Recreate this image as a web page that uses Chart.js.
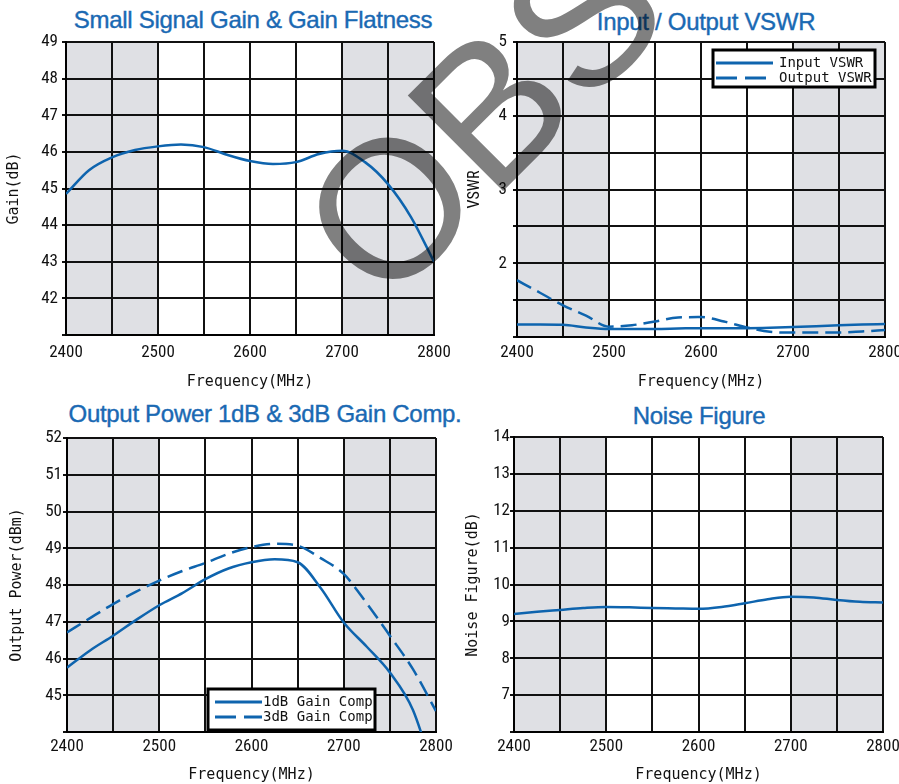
<!DOCTYPE html>
<html>
<head>
<meta charset="utf-8">
<script src="https://cdn.jsdelivr.net/npm/chart.js@4.4.1/dist/chart.umd.min.js"></script>
<style>
  html, body { margin: 0; padding: 0; background: #fff; overflow: hidden; }
  #page { position: relative; width: 899px; height: 784px; }
  .panel { position: absolute; }
  .ttl {
    position: absolute; white-space: nowrap; line-height: 1;
    font-family: 'Liberation Sans', Arial, sans-serif; font-size: 24px;
    color: #1a69b3; letter-spacing: -0.3px; transform: translateX(-50%);
    -webkit-text-stroke: 0.4px #1a69b3;
  }
  #mark { position: absolute; left: 0; top: 0; pointer-events: none; mix-blend-mode: multiply; }
</style>
</head>
<body>
<div id="page">
  <div class="ttl" style="left:253px;top:8px">Small Signal Gain &amp; Gain Flatness</div>
  <div class="ttl" style="left:706px;top:10px">Input / Output VSWR</div>
  <div class="ttl" style="left:265px;top:402px">Output Power 1dB &amp; 3dB Gain Comp.</div>
  <div class="ttl" style="left:699px;top:404px">Noise Figure</div>

  <canvas class="panel" id="gainChart" width="460" height="400" style="left:0;top:0"></canvas>
  <canvas class="panel" id="vswrChart" width="460" height="400" style="left:450px;top:0"></canvas>
  <canvas class="panel" id="powerChart" width="460" height="389" style="left:0;top:395px"></canvas>
  <canvas class="panel" id="nfChart" width="460" height="389" style="left:450px;top:395px"></canvas>

  <svg id="mark" width="899" height="784">
    <text x="384" y="310" transform="rotate(-45 384 310)" font-family="Liberation Sans, Arial, sans-serif"
          font-size="196" fill="#808080">OBS</text>
  </svg>
</div>

<script>
// frequency points (MHz)
const freqMHz = [2400, 2425, 2450, 2475, 2500, 2525, 2550, 2575, 2600, 2625, 2650, 2675, 2700, 2725, 2750, 2775, 2800];
const freqTicks = [2400, 2500, 2600, 2700, 2800];
const shadeBands = [[2400, 2500], [2700, 2800]];

// small signal gain (dB)
const gainDb = [44.85, 45.5, 45.85, 46.05, 46.15, 46.2, 46.13, 45.92, 45.75, 45.67, 45.72, 45.94, 46.03, 45.72, 45.12, 44.22, 43.0];
const gainTicks = [42, 43, 44, 45, 46, 47, 48, 49];

// VSWR
const inputVswr = [1.17, 1.17, 1.165, 1.13, 1.11, 1.11, 1.11, 1.115, 1.12, 1.12, 1.12, 1.125, 1.135, 1.145, 1.16, 1.17, 1.175];
const outputVswr = [1.77, 1.6, 1.43, 1.29, 1.14, 1.16, 1.21, 1.265, 1.27, 1.21, 1.13, 1.07, 1.06, 1.06, 1.06, 1.075, 1.095];
const vswrTicks = [2, 3, 4, 5];

// output power at gain compression (dBm)
const p1dB = [45.75, 46.22, 46.62, 47.05, 47.45, 47.78, 48.16, 48.45, 48.62, 48.7, 48.62, 47.92, 46.98, 46.32, 45.62, 44.6, 42.7];
const p3dB = [46.71, 47.1, 47.48, 47.82, 48.12, 48.38, 48.6, 48.85, 49.03, 49.12, 49.07, 48.73, 48.3, 47.5, 46.62, 45.71, 44.57];
const powerTicks = [45, 46, 47, 48, 49, 50, 51, 52];

// noise figure (dB)
const noiseFig = [9.2, 9.26, 9.31, 9.36, 9.39, 9.38, 9.36, 9.35, 9.34, 9.39, 9.49, 9.6, 9.67, 9.65, 9.58, 9.53, 9.51];
const nfTicks = [7, 8, 9, 10, 11, 12, 13, 14];

const BLUE = '#0e64ae';
const INK = '#111';
const monoFont = "'DejaVu Sans Mono', 'Liberation Mono', monospace";

// find a narrow sans for the tick numbers, else shrink the regular one
function pickNarrow() {
  const ctx = document.createElement('canvas').getContext('2d');
  const w = f => { ctx.font = f; return ctx.measureText('2400 2800 VSWR').width; };
  const base = w('18px monospace');
  const named = ['Liberation Sans Narrow', 'Arial Narrow', 'Roboto Condensed', 'DejaVu Sans Condensed', 'Noto Sans Condensed', 'Open Sans Condensed'];
  for (const n of named) {
    if (w(`18px '${n}', monospace`) !== base) return { family: `'${n}', sans-serif`, size: 17 };
  }
  for (const n of ['Roboto', 'Noto Sans', 'Open Sans', 'DejaVu Sans']) {
    if (w(`normal condensed 18px '${n}'`) < 0.92 * w(`18px '${n}'`)) return { family: `'${n}', sans-serif`, weight: 'condensed', size: 17 };
  }
  return { family: "'Liberation Sans', sans-serif", size: 15 };
}
const tickFont = pickNarrow();

const pts = vals => vals.map((v, i) => ({ x: freqMHz[i], y: v }));

// grey bands behind the grid
const shadePlugin = {
  id: 'shade',
  beforeDraw(chart) {
    const { ctx, chartArea: a, scales: { x } } = chart;
    ctx.save();
    ctx.fillStyle = '#dfe0e4';
    shadeBands.forEach(([f0, f1]) => {
      const x0 = x.getPixelForValue(f0), x1 = x.getPixelForValue(f1);
      ctx.fillRect(x0, a.top, x1 - x0, a.bottom - a.top);
    });
    ctx.restore();
  }
};

// boxed legend drawn inside the plot
const boxLegend = {
  id: 'boxLegend',
  afterDatasetsDraw(chart, args, o) {
    if (!o.show) return;
    const { ctx, chartArea: a } = chart;
    const bx = a.left + o.left, by = a.top + o.top;
    ctx.save();
    ctx.fillStyle = '#fff';
    ctx.fillRect(bx, by, o.width, o.height);
    ctx.strokeStyle = '#000';
    ctx.lineWidth = 3;
    ctx.strokeRect(bx, by, o.width, o.height);
    chart.data.datasets.forEach((ds, i) => {
      const cy = by + o.rows[i];
      ctx.strokeStyle = ds.borderColor;
      ctx.lineWidth = 3;
      ctx.setLineDash(i ? o.dash : []);
      ctx.beginPath();
      ctx.moveTo(bx + o.lineX, cy);
      ctx.lineTo(bx + o.lineX + o.lineLen, cy);
      ctx.stroke();
      ctx.setLineDash([]);
      ctx.fillStyle = INK;
      ctx.font = '14px ' + monoFont;
      ctx.textBaseline = 'middle';
      ctx.fillText(ds.label, bx + o.textX, cy);
    });
    ctx.restore();
  }
};

function panel(id, datasets, y, lay, legend) {
  return new Chart(document.getElementById(id), {
    type: 'line',
    data: { datasets },
    plugins: [shadePlugin, boxLegend],
    options: {
      responsive: false,
      animation: false,
      layout: { padding: lay.padding },
      elements: { point: { radius: 0 }, line: { borderWidth: 2.5, cubicInterpolationMode: 'monotone' } },
      plugins: {
        legend: { display: false },
        tooltip: { enabled: false },
        boxLegend: legend || { show: false }
      },
      scales: {
        x: {
          type: 'linear', min: 2400, max: 2800,
          border: { color: '#000', width: 2 },
          grid: { color: INK, lineWidth: 2, drawTicks: false },
          ticks: {
            stepSize: 50, padding: lay.xTickPad, color: INK, maxRotation: 0, autoSkip: false,
            font: tickFont,
            callback: v => freqTicks.includes(v) ? String(v) : ''
          },
          title: { display: true, text: 'Frequency(MHz)', color: INK, padding: 0, font: { family: monoFont, size: 15 } },
          afterFit: s => { s.height = lay.xH; }
        },
        y: {
          min: y.min, max: y.max,
          border: { color: '#000', width: 2 },
          grid: { color: INK, lineWidth: 2, tickLength: 4 },
          ticks: {
            stepSize: y.step, padding: lay.yTickPad, color: INK, autoSkip: false,
            font: tickFont,
            callback: v => y.labels.includes(v) ? String(v) : ''
          },
          title: { display: true, text: y.title, color: INK, padding: { top: lay.yTitlePad, bottom: 0 }, font: y.titleFont },
          afterFit: s => { s.width = lay.yW; }
        }
      }
    }
  });
}

const vswrTitleFont = Object.assign({}, tickFont, { size: tickFont.size - 1 });

panel('gainChart',
  [{ label: 'Gain', data: pts(gainDb), borderColor: BLUE }],
  { min: 41, max: 49, step: 1, labels: gainTicks, title: 'Gain(dB)', titleFont: { family: monoFont, size: 15 } },
  { padding: { top: 42, left: 0, right: 26, bottom: 9 }, xH: 56, yW: 66, xTickPad: 8, yTickPad: 4, yTitlePad: 5 });

panel('vswrChart',
  [
    { label: 'Input VSWR', data: pts(inputVswr), borderColor: BLUE },
    { label: 'Output VSWR', data: pts(outputVswr), borderColor: BLUE, borderDash: [16, 7] }
  ],
  { min: 1, max: 5, step: 0.5, labels: vswrTicks, title: 'VSWR', titleFont: vswrTitleFont },
  { padding: { top: 42, left: 0, right: 25, bottom: 9 }, xH: 54, yW: 67, xTickPad: 6, yTickPad: 6, yTitlePad: 15 },
  { show: true, left: 196, top: 8, width: 162, height: 37, rows: [13, 28], lineX: 3, lineLen: 57, textX: 66, dash: [21, 8] });

panel('powerChart',
  [
    { label: '1dB Gain Comp', data: pts(p1dB), borderColor: BLUE },
    { label: '3dB Gain Comp', data: pts(p3dB), borderColor: BLUE, borderDash: [16, 7] }
  ],
  { min: 44, max: 52, step: 1, labels: powerTicks, title: 'Output Power(dBm)', titleFont: { family: monoFont, size: 15 } },
  { padding: { top: 43, left: 0, right: 24, bottom: 0 }, xH: 52, yW: 67, xTickPad: 5, yTickPad: 1, yTitlePad: 8 },
  { show: true, left: 141, top: 251, width: 167, height: 41, rows: [13, 28], lineX: 7, lineLen: 47, textX: 55, dash: [21, 8] });

panel('nfChart',
  [{ label: 'Noise Figure', data: pts(noiseFig), borderColor: BLUE }],
  { min: 6, max: 14, step: 1, labels: nfTicks, title: 'Noise Figure(dB)', titleFont: { family: monoFont, size: 15 } },
  { padding: { top: 42, left: 0, right: 27, bottom: 0 }, xH: 52, yW: 64, xTickPad: 5, yTickPad: 0, yTitlePad: 14 });
</script>
</body>
</html>
